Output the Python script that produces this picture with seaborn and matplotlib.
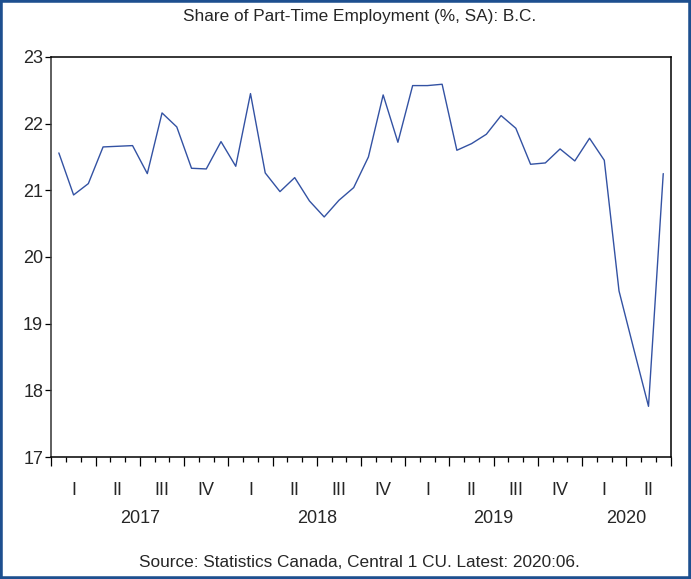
"""
Share of part-time employment in B.C., monthly 2017:01 - 2020:06 (seasonally adjusted).
"""

import numpy as np
import pandas as pd
import matplotlib.pyplot as plt
import matplotlib.patches as patches
from matplotlib.ticker import MultipleLocator
import seaborn as sns

# Data
share = [
    21.56, 20.93, 21.10, 21.65, 21.66, 21.67, 21.25, 22.16, 21.95, 21.33, 21.32, 21.73,  # 2017
    21.36, 22.45, 21.26, 20.98, 21.19, 20.84, 20.60, 20.85, 21.04, 21.50, 22.43, 21.72,  # 2018
    22.57, 22.57, 22.59, 21.60, 21.70, 21.84, 22.12, 21.93, 21.39, 21.41, 21.62, 21.44,  # 2019
    21.78, 21.45, 19.49, 18.62, 17.76, 21.25,                                            # 2020
]
months = pd.period_range("2017-01", periods=len(share), freq="M").astype(str)
quarter_labels = ["I", "II", "III", "IV"] * 3 + ["I", "II"]
years = ["2017", "2018", "2019", "2020"]
year_months = [12, 12, 12, 6]

df = pd.DataFrame({"month": months, "share": share})
df["pos"] = np.arange(len(df)) + 0.5  # centre each month in its slot

sns.set_style("ticks")
plt.rcParams["font.family"] = ["Liberation Sans", "DejaVu Sans"]

fig = plt.figure(figsize=(6.91, 5.79), dpi=100)
ax = fig.add_axes([0.0745, 0.2107, 0.896, 0.691])

sns.lineplot(data=df, x="pos", y="share", ax=ax, color="#3352a3", linewidth=1.0)

ax.set_xlim(0, len(share))
ax.set_ylim(17, 23)
ax.yaxis.set_major_locator(MultipleLocator(1))
ax.xaxis.set_major_locator(MultipleLocator(3))
ax.xaxis.set_minor_locator(MultipleLocator(1))
ax.set_xticklabels([])
ax.tick_params(axis="x", which="major", length=6.5, width=0.9, direction="out", color="black")
ax.tick_params(axis="x", which="minor", length=3.5, width=0.9, direction="out", color="black")
ax.tick_params(axis="y", length=4, width=0.9, labelsize=13, pad=2, color="black")
ax.set_xlabel("")
ax.set_ylabel("")
for side in ["left", "right", "top", "bottom"]:
    ax.spines[side].set_visible(True)
    ax.spines[side].set_linewidth(1.1)
    ax.spines[side].set_color("black")
ax.spines["left"].set_color("#333333")

# quarter and year labels under the axis
xt = ax.get_xaxis_transform()
for i, q in enumerate(quarter_labels):
    ax.text(i * 3 + 1.5, -0.083, q, transform=xt, ha="center", va="center", fontsize=13)
start = 0
for yr, n in zip(years, year_months):
    ax.text(start + n / 2, -0.153, yr, transform=xt, ha="center", va="center", fontsize=13)
    start += n

fig.text(0.52, 0.972, "Share of Part-Time Employment (%, SA): B.C.", ha="center", va="center", fontsize=12.4)
fig.text(0.52, 0.029, "Source: Statistics Canada, Central 1 CU. Latest: 2020:06.", ha="center", va="center", fontsize=12.4)

# blue frame round the whole figure
fig.patches.append(patches.Rectangle((0, 0), 1, 1, transform=fig.transFigure, fill=False,
                                     edgecolor="#1d4f8f", linewidth=4, clip_on=False))

plt.savefig("out.png", dpi=100)
